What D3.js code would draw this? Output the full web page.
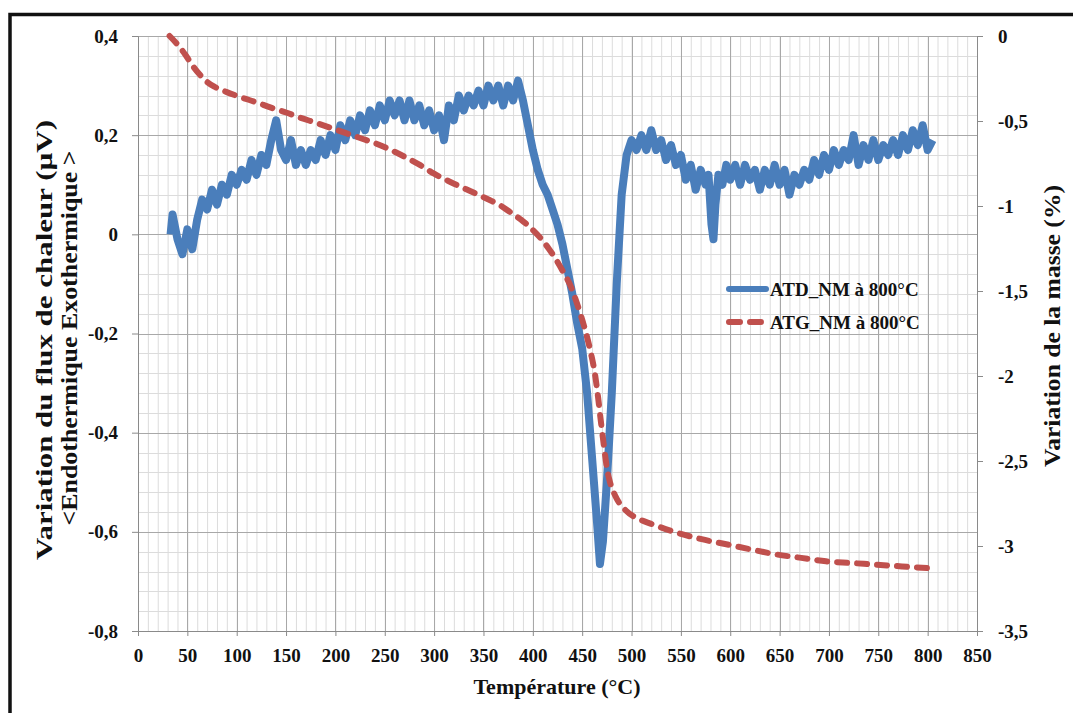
<!DOCTYPE html>
<html>
<head>
  <meta charset="utf-8" />
  <title>ATD / ATG</title>
  <style>
    body { margin: 0; background: #fff; }
    text { font-family: "Liberation Serif", "Times New Roman", serif; font-weight: bold; }
    .grid-minor line { stroke: #dcdcdc; stroke-width: 1; }
    .grid-major line { stroke: #a8a8a8; stroke-width: 1; }
    .axis path, .axis line { stroke: #8a8a8a; }
  </style>
  <script src="https://cdnjs.cloudflare.com/ajax/libs/d3/7.8.5/d3.min.js"></script>
</head>
<body>
  <div id="chart"></div>
  <script>
    // ATD curve (heat flux, left axis)
    var atdTemp = [33, 35, 40, 45, 50, 55, 60, 65, 70, 75, 80, 85, 90, 95, 100, 105, 110, 115, 120, 125,
      130, 135, 140, 145, 150, 155, 160, 165, 170, 175, 180, 185, 190, 195, 200, 205, 210, 215, 220, 225,
      230, 235, 240, 245, 250, 255, 260, 265, 270, 275, 280, 285, 290, 295, 300, 305, 310, 315, 320, 325,
      330, 335, 340, 345, 350, 355, 360, 365, 370, 375, 380, 385, 390, 395, 400, 405, 410, 415, 420, 425,
      430, 435, 440, 445, 450, 455, 460, 465, 468, 471, 475, 480, 485, 490, 495, 500, 505, 510, 515, 520,
      525, 530, 535, 540, 545, 550, 555, 560, 565, 570, 575, 578, 581, 583, 585, 588, 592, 596, 600, 605,
      610, 615, 620, 625, 630, 635, 640, 645, 650, 655, 660, 665, 670, 675, 680, 685, 690, 695, 700, 705,
      710, 715, 720, 725, 730, 735, 740, 745, 750, 755, 760, 765, 770, 775, 780, 785, 790, 795, 800, 805];
    var atdFlux = [0.00, 0.04, -0.01, -0.04, 0.01, -0.03, 0.03, 0.07, 0.05, 0.09, 0.06, 0.10, 0.08, 0.12, 0.10, 0.13, 0.11, 0.15, 0.12, 0.16,
      0.14, 0.19, 0.23, 0.17, 0.15, 0.19, 0.14, 0.17, 0.14, 0.17, 0.15, 0.19, 0.16, 0.20, 0.17, 0.22, 0.19, 0.23, 0.20, 0.24,
      0.21, 0.25, 0.22, 0.26, 0.23, 0.27, 0.24, 0.27, 0.23, 0.27, 0.23, 0.26, 0.22, 0.25, 0.21, 0.24, 0.19, 0.26, 0.23, 0.28,
      0.25, 0.28, 0.26, 0.29, 0.26, 0.30, 0.27, 0.30, 0.26, 0.30, 0.27, 0.31, 0.27, 0.22, 0.17, 0.13, 0.10, 0.08, 0.05, 0.02,
      -0.02, -0.07, -0.12, -0.18, -0.23, -0.32, -0.45, -0.58, -0.665, -0.62, -0.50, -0.32, -0.10, 0.08, 0.16, 0.19, 0.17, 0.20, 0.17, 0.21,
      0.17, 0.19, 0.15, 0.18, 0.14, 0.16, 0.11, 0.14, 0.09, 0.13, 0.10, 0.12, 0.02, -0.01, 0.06, 0.12, 0.10, 0.14, 0.11, 0.14,
      0.10, 0.14, 0.11, 0.13, 0.09, 0.13, 0.10, 0.14, 0.10, 0.13, 0.08, 0.12, 0.10, 0.13, 0.11, 0.15, 0.12, 0.16, 0.13, 0.17,
      0.14, 0.17, 0.15, 0.20, 0.14, 0.18, 0.15, 0.19, 0.15, 0.18, 0.16, 0.19, 0.16, 0.20, 0.17, 0.21, 0.18, 0.22, 0.17, 0.19];

    // ATG curve (mass change, right axis)
    var atgTemp = [32, 40, 48, 56, 63, 70, 78, 90, 104, 120, 134, 150, 164, 180, 195, 210, 225, 240, 256, 270,
      286, 300, 317, 332, 347, 358, 368, 378, 388, 398, 408, 416, 423, 431, 439, 444, 449, 454, 459, 463,
      466, 469, 472, 475, 478, 484, 494, 507, 520, 545, 571, 596, 621, 647, 672, 697, 723, 748, 774, 800];
    var atgMass = [0, -0.05, -0.11, -0.18, -0.23, -0.27, -0.30, -0.33, -0.36, -0.39, -0.42, -0.45, -0.48, -0.51, -0.54, -0.57, -0.60, -0.63, -0.67, -0.71,
      -0.76, -0.81, -0.86, -0.90, -0.94, -0.97, -1.00, -1.04, -1.08, -1.13, -1.19, -1.25, -1.31, -1.39, -1.48, -1.56, -1.65, -1.75, -1.87, -1.99,
      -2.12, -2.27, -2.41, -2.54, -2.62, -2.71, -2.79, -2.84, -2.87, -2.92, -2.96, -2.99, -3.02, -3.05, -3.07, -3.09, -3.10, -3.11, -3.12, -3.13];

    var xTicks = d3.range(0, 851, 50);
    var leftTicks = [-0.8, -0.6, -0.4, -0.2, 0, 0.2, 0.4];
    var rightTicks = [-3.5, -3, -2.5, -2, -1.5, -1, -0.5, 0];
    var seriesNames = ["ATD_NM à 800°C", "ATG_NM à 800°C"];

    var W = 1073, H = 713;
    var margin = { top: 36, right: 96, bottom: 82, left: 138 };
    var w = W - margin.left - margin.right,
      h = H - margin.top - margin.bottom;

    var x = d3.scaleLinear().domain([0, 850]).range([0, w]);
    var yL = d3.scaleLinear().domain([-0.8, 0.4]).range([h, 0]);
    var yR = d3.scaleLinear().domain([-3.5, 0]).range([h, 0]);
    var comma = function (v) { return String(v).replace(".", ","); };

    var svg = d3.select("#chart").append("svg")
      .attr("width", W)
      .attr("height", H);

    // outer frame
    svg.append("rect")
      .attr("x", 10).attr("y", 14.5)
      .attr("width", 1070).attr("height", 720)
      .attr("fill", "none").attr("stroke", "#111").attr("stroke-width", 3.5);

    var g = svg.append("g")
      .attr("transform", "translate(" + margin.left + "," + margin.top + ")");

    // gridlines
    g.append("g").attr("class", "grid-minor")
      .selectAll("line").data(d3.range(0, 851, 10)).enter().append("line")
      .attr("x1", d => x(d) + 0.5).attr("x2", d => x(d) + 0.5).attr("y1", 0).attr("y2", h);
    g.append("g").attr("class", "grid-minor")
      .selectAll("line").data(d3.range(0, 31).map(i => -0.8 + i * 0.04)).enter().append("line")
      .attr("y1", d => Math.round(yL(d)) + 0.5).attr("y2", d => Math.round(yL(d)) + 0.5).attr("x1", 0).attr("x2", w);
    g.append("g").attr("class", "grid-major")
      .selectAll("line").data(xTicks).enter().append("line")
      .attr("x1", d => Math.round(x(d)) + 0.5).attr("x2", d => Math.round(x(d)) + 0.5).attr("y1", 0).attr("y2", h);
    g.append("g").attr("class", "grid-major")
      .selectAll("line").data(leftTicks).enter().append("line")
      .attr("y1", d => Math.round(yL(d)) + 0.5).attr("y2", d => Math.round(yL(d)) + 0.5).attr("x1", 0).attr("x2", w);

    // axes
    var xAxis = g.append("g").attr("class", "axis")
      .attr("transform", "translate(0," + h + ")")
      .call(d3.axisBottom(x).tickValues(xTicks).tickSize(5).tickPadding(13).tickFormat(d3.format("d")));
    var lAxis = g.append("g").attr("class", "axis")
      .call(d3.axisLeft(yL).tickValues(leftTicks).tickSize(6).tickPadding(14).tickFormat(comma));
    var rAxis = g.append("g").attr("class", "axis")
      .attr("transform", "translate(" + w + ",0)")
      .call(d3.axisRight(yR).tickValues(rightTicks).tickSize(6).tickPadding(15).tickFormat(comma));
    [xAxis, lAxis, rAxis].forEach(function (a) {
      a.attr("font-family", null).attr("font-size", null);
      a.selectAll("text").style("font-size", "19px").attr("fill", "#111");
      a.select(".domain").attr("stroke", "#8a8a8a");
    });

    // series
    var atd = atdTemp.map((t, i) => ({ t: t, v: atdFlux[i] }));
    var atg = atgTemp.map((t, i) => ({ t: t, v: atgMass[i] }));

    g.append("path")
      .datum(atd)
      .attr("fill", "none")
      .attr("stroke", "#4a7ebb")
      .attr("stroke-width", 8)
      .attr("stroke-linejoin", "round")
      .attr("d", d3.line().x(d => x(d.t)).y(d => yL(d.v)));

    g.append("path")
      .datum(atg)
      .attr("fill", "none")
      .attr("stroke", "#c0504d")
      .attr("stroke-width", 6)
      .attr("stroke-linecap", "round")
      .attr("stroke-dasharray", "10,10")
      .attr("d", d3.line().curve(d3.curveMonotoneX).x(d => x(d.t)).y(d => yR(d.v)));

    // legend
    var leg = svg.append("g");
    leg.append("line").attr("x1", 729).attr("x2", 766).attr("y1", 289).attr("y2", 289)
      .attr("stroke", "#4a7ebb").attr("stroke-width", 6).attr("stroke-linecap", "round");
    leg.append("line").attr("x1", 729).attr("x2", 766).attr("y1", 322).attr("y2", 322)
      .attr("stroke", "#c0504d").attr("stroke-width", 6).attr("stroke-linecap", "round")
      .attr("stroke-dasharray", "11,10");
    leg.selectAll("text.lg").data(seriesNames).enter().append("text")
      .attr("x", 770).attr("y", (d, i) => 296 + i * 33)
      .style("font-size", "19px").attr("fill", "#111")
      .text(d => d);

    // axis titles
    svg.append("text")
      .attr("x", 557).attr("y", 694)
      .attr("text-anchor", "middle")
      .style("font-size", "22px").attr("fill", "#111")
      .text("Température (°C)");

    svg.append("text")
      .attr("transform", "translate(52,340) rotate(-90)")
      .attr("text-anchor", "middle")
      .attr("textLength", 440).attr("lengthAdjust", "spacingAndGlyphs")
      .style("font-size", "23px").attr("fill", "#111")
      .text("Variation du flux de chaleur (µV)");
    svg.append("text")
      .attr("transform", "translate(77,338) rotate(-90)")
      .attr("text-anchor", "middle")
      .attr("textLength", 375).attr("lengthAdjust", "spacingAndGlyphs")
      .style("font-size", "23px").attr("fill", "#111")
      .text("<Endothermique Exothermique >");

    svg.append("text")
      .attr("transform", "translate(1060,326) rotate(-90)")
      .attr("text-anchor", "middle")
      .attr("textLength", 282).attr("lengthAdjust", "spacingAndGlyphs")
      .style("font-size", "23px").attr("fill", "#111")
      .text("Variation de la masse (%)");
  </script>
</body>
</html>
